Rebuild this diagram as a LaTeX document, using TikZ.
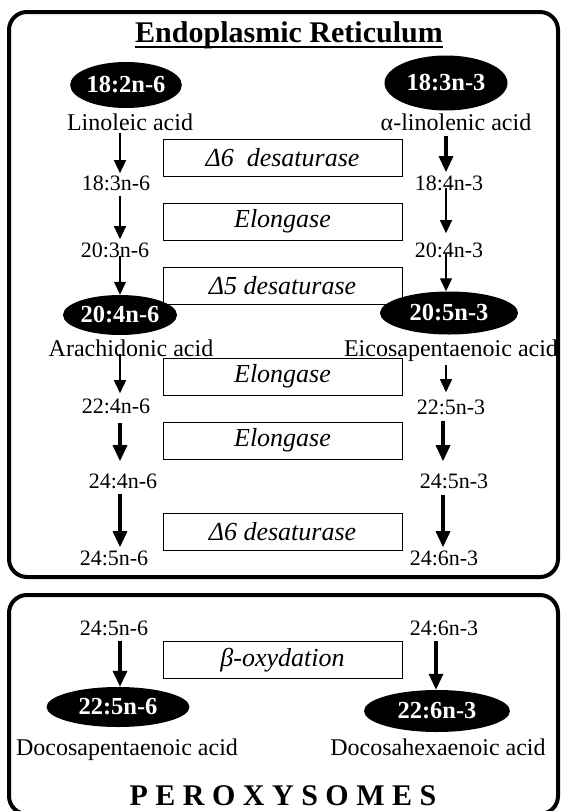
\documentclass[tikz,border=0pt]{standalone}
\usepackage{fontspec}
\setmainfont{Liberation Serif}
\usetikzlibrary{arrows.meta,shapes.geometric}
\newcommand{\lsp}{\kern7.5pt}
\begin{document}
\begin{tikzpicture}[x=1pt,y=-1pt,
  compart/.style={draw, line width=4pt, rounded corners=18pt},
  heading/.style={font=\bfseries\fontsize{30}{32}\selectfont, inner sep=0pt, anchor=base},
  acid/.style={font=\fontsize{24}{26}\selectfont, inner sep=0pt, anchor=base},
  lbl/.style={font=\fontsize{22}{24}\selectfont, inner sep=0pt, anchor=base},
  fa/.style={ellipse, fill=black, text=white, inner sep=0pt,
    font=\bfseries\fontsize{24.5}{26}\selectfont},
  enz/.style={draw, line width=1pt, minimum width=239pt, minimum height=37pt,
    inner sep=0pt, font=\itshape\fontsize{26}{28}\selectfont},
  thinarrow/.style={line width=1.3pt, -{Triangle[width=12pt,length=13pt]}},
  thickarrow/.style={line width=3.2pt, -{Triangle[width=14pt,length=16pt]}},
]
\useasboundingbox (0,0) rectangle (563,811);
\clip (0,0) rectangle (563,811);

% compartments
\draw[compart] (9,12) rectangle (558,577);
\draw[compart] (9,595) rectangle (558,814);

% column positions of the arrows
\coordinate (cL) at (120,0);
\coordinate (cR) at (446,0);
\coordinate (cRb) at (443,0);
\coordinate (cRp) at (436,0);

% heading
\node[heading] (er) at (289,42) {Endoplasmic Reticulum};
\draw[line width=1.8pt] ([yshift=-5pt]er.base west) -- ([yshift=-5pt]er.base east);

% precursors
\node[fa, minimum width=108pt, minimum height=46pt] (la) at (126,85) {18:2n-6};
\node[fa, minimum width=123pt, minimum height=55pt] (ala) at (446,83) {18:3n-3};
\node[acid] (laN) at (130,130) {Linoleic acid};
\node[acid] (alaN) at (456,130) {α-linolenic acid};

% enzyme boxes
\node[enz] (d6a) at (282.5,157.5) {Δ6\ \ desaturase};
\node[enz] (el1) at (282.5,221.5) {Elongase};
\node[enz] (d5) at (282.5,285.5) {Δ5 desaturase};
\node[enz] (el2) at (282.5,376.5) {Elongase};
\node[enz] (el3) at (282.5,440.5) {Elongase};
\node[enz] (d6b) at (282.5,532) {Δ6 desaturase};
\node[enz] (box) at (282.5,660) {β-oxydation};

% n-6 series
\node[lbl] (a1) at (116,190) {18:3n-6};
\node[lbl] (a2) at (115,257) {20:3n-6};
\node[fa, minimum width=114pt, minimum height=40pt] (aa) at (120,315) {20:4n-6};
\node[acid] (aaN) at (131,356) {Arachidonic acid};
\node[lbl] (a3) at (116,413) {22:4n-6};
\node[lbl] (a4) at (123,488) {24:4n-6};
\node[lbl] (a5) at (114,565) {24:5n-6};

% n-3 series
\node[lbl] (b1) at (449,190) {18:4n-3};
\node[lbl] (b2) at (449,257) {20:4n-3};
\node[fa, minimum width=138pt, minimum height=43pt] (epa) at (449,313) {20:5n-3};
\node[acid] (epaN) at (451,356) {Eicosapentaenoic acid};
\node[lbl] (b3) at (451,414) {22:5n-3};
\node[lbl] (b4) at (454,488) {24:5n-3};
\node[lbl] (b5) at (444,565) {24:6n-3};

% peroxysomes
\node[lbl] (p1) at (114,635) {24:5n-6};
\node[lbl] (p2) at (444,635) {24:6n-3};
\node[fa, minimum width=143pt, minimum height=40pt] (dpa) at (118,707) {22:5n-6};
\node[fa, minimum width=146pt, minimum height=42pt] (dha) at (437,711) {22:6n-3};
\node[acid] (dpaN) at (127,755) {Docosapentaenoic acid};
\node[acid] (dhaN) at (438,755) {Docosahexaenoic acid};
\node[heading] (px) at (283,805)
  {P\lsp E\lsp R\lsp O\lsp X\lsp Y\lsp S\lsp O\lsp M\lsp E\lsp S};

% n-6 arrows
\draw[thinarrow, shorten <=3pt, shorten >=2pt] (laN.south -| cL) -- (a1.north -| cL);
\draw[thinarrow, shorten <=5pt, shorten >=3pt] (a1.south -| cL) -- (a2.north -| cL);
\draw[thinarrow, shorten <=-2pt] (a2.south -| cL) -- (aa.north -| cL);
\draw[thinarrow, shorten <=-2pt, shorten >=5pt] (aaN.south -| cL) -- (a3.north -| cL);
\draw[thickarrow, shorten <=9pt, shorten >=12pt] (a3.south -| cL) -- (a4.north -| cL);
\draw[thickarrow, shorten <=5pt, shorten >=3pt] (a4.south -| cL) -- (a5.north -| cL);

% n-3 arrows
\draw[thickarrow, shorten <=6pt, shorten >=3pt] (alaN.south -| cR) -- (b1.north -| cR);
\draw[thinarrow, shorten <=-3pt, shorten >=9pt] (b1.south -| cR) -- (b2.north -| cR);
\draw[thinarrow, shorten <=-4pt] (b2.south -| cR) -- (epa.north -| cR);
\draw[thinarrow, shorten <=4pt, shorten >=7pt] (epaN.south -| cR) -- (b3.north -| cR);
\draw[thickarrow, shorten <=6pt, shorten >=12pt] (b3.south -| cRb) -- (b4.north -| cRb);
\draw[thickarrow, shorten <=6pt, shorten >=3pt] (b4.south -| cRb) -- (b5.north -| cRb);

% beta-oxidation arrows
\draw[thickarrow, shorten <=5pt] (p1.south -| cL) -- (dpa.north -| cL);
\draw[thickarrow, shorten <=5pt] (p2.south -| cRp) -- (dha.north -| cRp);
\end{tikzpicture}
\end{document}
